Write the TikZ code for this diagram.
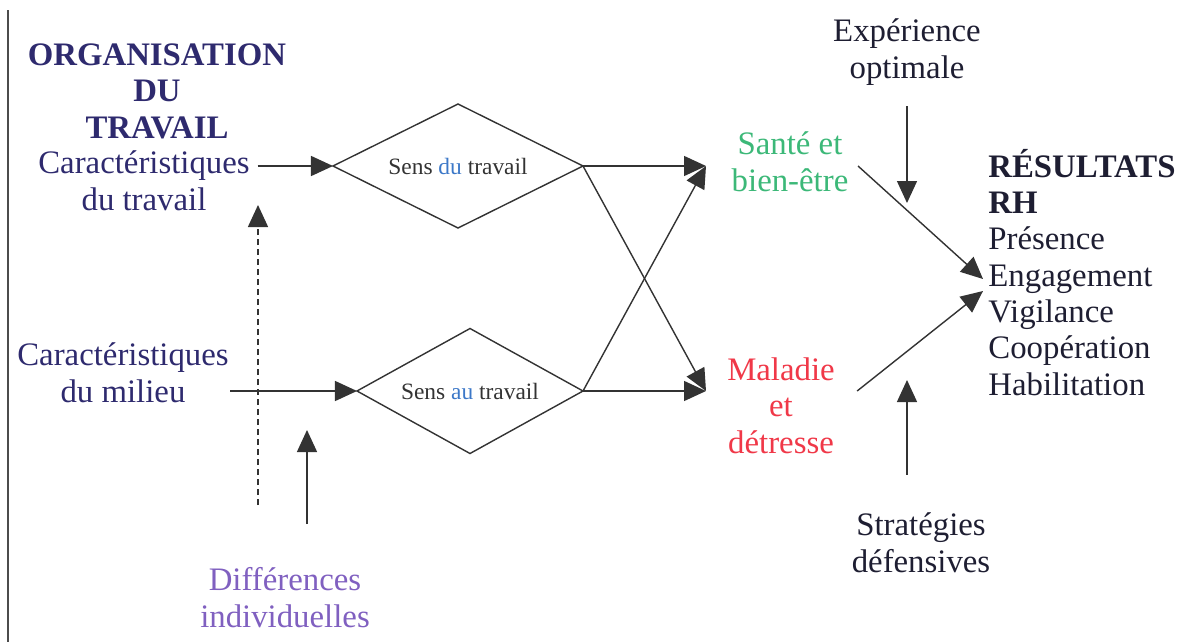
\documentclass[tikz,border=0pt]{standalone}
\usepackage{fontspec}
\setmainfont{Liberation Serif}
\usetikzlibrary{arrows.meta,shapes.geometric,calc}
\definecolor{marine}{RGB}{46,42,110}
\definecolor{bleusens}{RGB}{60,120,200}
\definecolor{vertsante}{RGB}{60,184,120}
\definecolor{rougemal}{RGB}{240,56,72}
\definecolor{violetdiff}{RGB}{128,96,192}
\definecolor{encre}{RGB}{30,30,50}

\begin{document}
\begin{tikzpicture}[x=0.03cm,y=-0.03cm,
  txt/.style={font=\fontsize{28}{31}\selectfont,align=center,inner sep=1pt,anchor=base},
  titre/.style={txt,font=\bfseries\fontsize{28}{31}\selectfont},
  losange/.style={draw=black!80,line width=1.2pt,diamond,aspect=2,inner sep=0pt,outer sep=0pt,
    font=\fontsize{20}{22}\selectfont,text=black!80},
  fleche/.style={draw=black!80,line width=1.2pt,-{Triangle[length=0.66cm,width=0.6cm]}}]
\useasboundingbox (0,0) rectangle (1180,642);
\draw[black!70,line width=1.5pt] (8,10) -- (8,642);
\node[titre,text=marine] (org) at (157,138) {ORGANISATION\\DU\\TRAVAIL};
\node[txt,text=marine] (cartrav) at (144,210) {Caractéristiques\\du travail};
\node[txt,text=marine] (carmil) at (123,402) {Caractéristiques\\du milieu};
\node[txt,text=violetdiff] (diff) at (285,627) {Différences\\individuelles};
\node[losange,minimum width=7.5cm,minimum height=3.72cm] (d1) at (458,166) {Sens {\color{bleusens}du} travail};
\node[losange,minimum width=6.78cm,minimum height=3.75cm] (d2) at (470,391) {Sens {\color{bleusens}au} travail};
\node[txt,text=vertsante] (sante) at (790,191) {Santé et\\bien-être};
\node[txt,text=rougemal] (maladie) at (781,453) {Maladie\\et\\détresse};
\node[txt,text=encre] (exp) at (907,78) {Expérience\\optimale};
\node[txt,text=encre] (strat) at (921,572) {Stratégies\\défensives};
\node[txt,text=encre,align=left,anchor=base west] (res) at (987,395)
  {\textbf{RÉSULTATS}\\\textbf{RH}\\Présence\\Engagement\\Vigilance\\Coopération\\Habilitation};
\coordinate (santein) at (706,166);
\coordinate (maladin) at (706,391);
\coordinate (resa) at (983,279);
\coordinate (resb) at (983,291);
\coordinate (expend) at (907,203);
\coordinate (stratend) at (907,380);
\coordinate (diffend) at (307,430);
\coordinate (dashbas) at (258,505);
\coordinate (dashhaut) at (258,205);
\draw[fleche,shorten <=0.2cm] (cartrav.east |- d1.west) -- (d1.west);
\draw[fleche] (carmil.east |- d2.west) -- (d2.west);
\draw[fleche] (d1.east) -- (santein);
\draw[fleche] (d1.east) -- (maladin);
\draw[fleche] (d2.east) -- (maladin);
\draw[fleche] (d2.east) -- (santein);
\draw[fleche] ([xshift=0.25cm]sante.east |- santein) -- (resa);
\draw[fleche] ([xshift=0.63cm]maladie.east |- maladin) -- (resb);
\draw[fleche,shorten <=0.6cm] (exp.south -| expend) -- (expend);
\draw[fleche,shorten <=1.1cm] (strat.north -| stratend) -- (stratend);
\draw[fleche,shorten <=1.26cm] (diff.north -| diffend) -- (diffend);
\draw[fleche,dash pattern=on 0.18cm off 0.12cm] (dashbas) -- (dashhaut);
\end{tikzpicture}
\end{document}
